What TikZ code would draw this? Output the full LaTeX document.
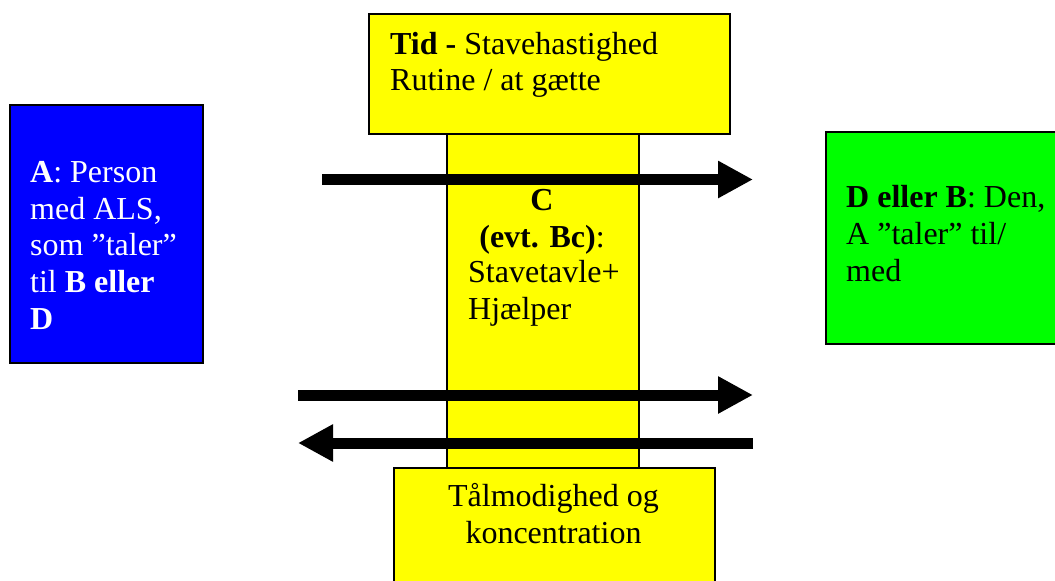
\documentclass[tikz,border=0pt]{standalone}
\usepackage{fontspec}
\setmainfont{Liberation Serif}
\usetikzlibrary{
    positioning,
    arrows.meta
}

\tikzset{
    box/.style={draw=black, line width=2pt, inner sep=0pt, anchor=north west},
    boxtext/.style={font=\fontsize{32pt}{36.8pt}\selectfont, inner sep=0pt, align=left},
    bigarrow/.style={line width=11pt, -{Triangle[length=35pt,width=35pt]}}
}

\begin{document}
\begin{tikzpicture}[x=1pt, y=-1pt]
    \useasboundingbox (0,0) rectangle (1055,581);
    \clip (0,0) rectangle (1055,581);

    % Person A (text placed by the baseline of its last line)
    \node[box, fill={rgb,255:red,0;green,0;blue,255}, minimum width=193pt, minimum height=258pt] (pa) at (9,104) {};
    \node[boxtext, anchor=base west, text=white] (patext) at (30,329.5)
        {\textbf{A}: Person\\med ALS,\\som ”taler”\\til \textbf{B eller}\\\textbf{D}};

    % Helper column C
    \node[box, fill={rgb,255:red,255;green,255;blue,0}, minimum width=192pt, minimum height=334pt] (pc) at (446,133) {};
    \node[boxtext, align=center, anchor=base] (pctext) at (542,247)
        {\textbf{C}\\\textbf{(evt. Bc)}:};
    \node[boxtext, anchor=base west] (pcsub) at (468,319.5) {Stavetavle+\\Hjælper};

    % Time box
    \node[box, fill={rgb,255:red,255;green,255;blue,0}, minimum width=361pt, minimum height=120pt] (tid) at (368,13) {};
    \node[boxtext, anchor=base west] (tidtext) at (390,90.8)
        {\textbf{Tid -} Stavehastighed\\Rutine / at gætte};

    % Patience box
    \node[box, fill={rgb,255:red,255;green,255;blue,0}, minimum width=321pt, minimum height=130pt] (tal) at (393,467) {};
    \node[boxtext, align=center, anchor=base] (taltext) at (553.5,543.5)
        {Tålmodighed og\\koncentration};

    % Partner D or B
    \node[box, fill={rgb,255:red,0;green,255;blue,0}, minimum width=250pt, minimum height=212pt] (pd) at (825,131) {};
    \node[boxtext, anchor=base west] (pdtext) at (846,281)
        {\textbf{D eller B}: Den,\\A ”taler” til/\\med};

    % Arrows
    \coordinate (upperL) at (322,179.5);
    \coordinate (upperR) at (753,179.5);
    \coordinate (midL) at (298,395);
    \coordinate (midR) at (753,395);
    \coordinate (lowL) at (298,443);
    \coordinate (lowR) at (753,443);
    \draw[bigarrow] (upperL) -- (upperR);
    \draw[bigarrow] (midL) -- (midR);
    \draw[bigarrow] (lowR) -- (lowL);
\end{tikzpicture}
\end{document}
